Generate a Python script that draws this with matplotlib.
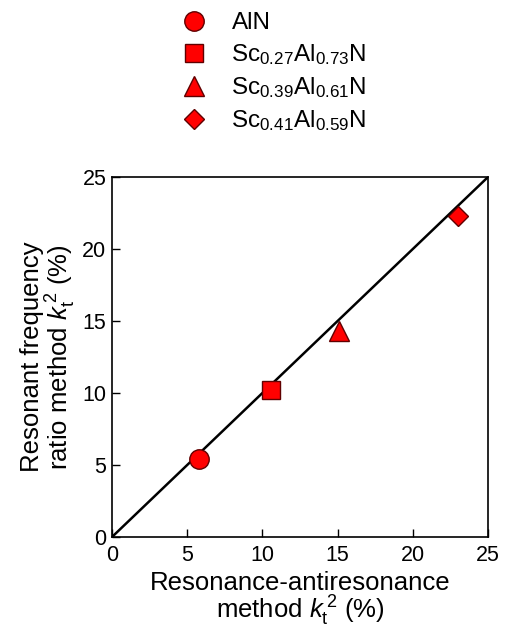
import matplotlib
matplotlib.use('Agg')
import matplotlib.pyplot as plt
from matplotlib.lines import Line2D

plt.rcParams['font.family'] = ['Liberation Sans', 'DejaVu Sans']
plt.rcParams['mathtext.fontset'] = 'custom'
plt.rcParams['mathtext.rm'] = 'Liberation Sans'
plt.rcParams['mathtext.it'] = 'Liberation Sans:italic'

labels = ['AlN', 'Sc$_{0.27}$Al$_{0.73}$N', 'Sc$_{0.39}$Al$_{0.61}$N', 'Sc$_{0.41}$Al$_{0.59}$N']
markers = ['o', 's', '^', 'D']
sizes = [14, 13, 14, 10]
x_vals = [5.8, 10.6, 15.1, 23.0]
y_vals = [5.4, 10.2, 14.3, 22.3]
ticks = [0, 5, 10, 15, 20, 25]

fig = plt.figure(figsize=(5.06, 6.30), dpi=100)
ax = fig.add_axes([0.2213, 0.1476, 0.7431, 0.5714])

ax.plot([0, 25], [0, 25], color='black', lw=1.8, zorder=1)
for xv, yv, m, s in zip(x_vals, y_vals, markers, sizes):
    ax.plot([xv], [yv], marker=m, ms=s, color='red', mec='#600000', mew=1.0, ls='none', zorder=3)

ax.set_xlim(0, 25)
ax.set_ylim(0, 25)
ax.set_xticks(ticks)
ax.set_yticks(ticks)
ax.tick_params(direction='in', length=6, width=1, labelsize=15.5, pad=4)
ax.tick_params(axis='x', pad=6)
for sp in ax.spines.values():
    sp.set_linewidth(1.2)

ax.set_xlabel('Resonance-antiresonance\nmethod $k_\\mathrm{t}^{\\,2}$ (%)', fontsize=18.5,
              linespacing=0.98, labelpad=3)
ax.set_ylabel('Resonant frequency\nratio method $k_\\mathrm{t}^{\\,2}$ (%)', fontsize=18.5,
              linespacing=1.0, labelpad=3)

handles = [Line2D([], [], marker=m, ms=s, color='red', mec='#600000', mew=1.0, ls='none')
           for m, s in zip(markers, sizes)]
fig.legend(handles, labels, loc='upper left', bbox_to_anchor=(0.311, 1.0), frameon=False,
           fontsize=17.5, handletextpad=0.55, labelspacing=0.33, borderaxespad=0.1)

fig.savefig('out.png', dpi=100)
